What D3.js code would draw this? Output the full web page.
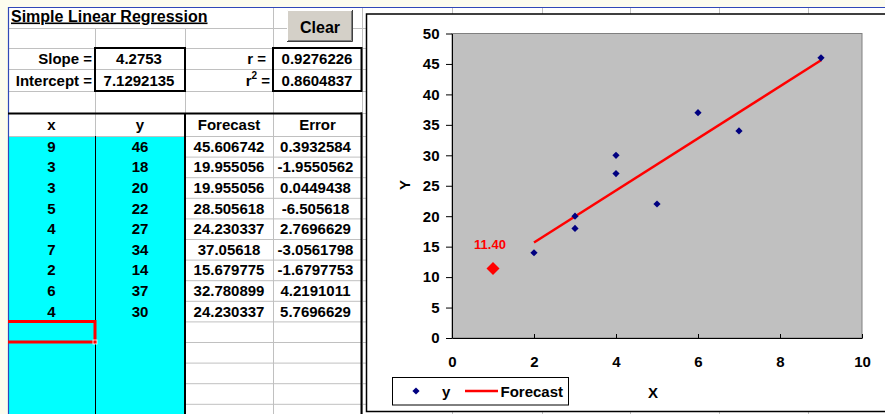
<!DOCTYPE html>
<html>
<head>
<meta charset="utf-8">
<script src="https://cdn.jsdelivr.net/npm/d3@7"></script>
<style>
  html, body { margin: 0; padding: 0; background: #fcfcee; }
  svg { display: block; font-family: "Liberation Sans", Arial, sans-serif; font-weight: bold; }
</style>
</head>
<body>
<svg id="sheet" width="885" height="414"></svg>
<script>
// ── data (as shown in the sheet) ───────────────────────────────
const xs        = [9, 3, 3, 5, 4, 7, 2, 6, 4];
const ys        = [46, 18, 20, 22, 27, 34, 14, 37, 30];
const forecasts = ["45.606742", "19.955056", "19.955056", "28.505618", "24.230337",
                   "37.05618", "15.679775", "32.780899", "24.230337"];
const errors    = ["0.3932584", "-1.9550562", "0.0449438", "-6.505618", "2.7696629",
                   "-3.0561798", "-1.6797753", "4.2191011", "5.7696629"];
const statLabels = ["Slope =", "Intercept ="];
const statValues = ["4.2753", "7.1292135"];
const corrValues = ["0.9276226", "0.8604837"];
const headers    = ["x", "y", "Forecast", "Error"];
const newPoint   = { x: 1, y: 11.40, label: "11.40" };
const xTicks     = [0, 2, 4, 6, 8, 10];
const yTicks     = [0, 5, 10, 15, 20, 25, 30, 35, 40, 45, 50];

// ── layout ─────────────────────────────────────────────────────
const FONT   = 15;
const GRID   = "#c0c0c0";
const CYAN   = "#00ffff";
const NAVY   = "#000080";
const RED    = "#ff0000";
const colX   = [8, 95, 185, 273, 362, 452, 542, 630, 719, 808, 897];
const rowY   = [7, 28, 48, 69, 91, 113, 136];
const ROW_H  = 20.6;
for (let i = 1; rowY[rowY.length - 1] < 414; i++) rowY.push(136 + i * ROW_H);
const DATA0  = 136;

const svg = d3.select("#sheet");

// sheet background
svg.append("rect").attr("x", 8).attr("y", 7).attr("width", 877).attr("height", 407).attr("fill", "#fff");

// cyan input columns
svg.append("rect").attr("x", colX[0]).attr("y", DATA0).attr("width", colX[2] - colX[0]).attr("height", 414 - DATA0).attr("fill", CYAN);

// gridlines
const grid = svg.append("g").attr("stroke", GRID).attr("stroke-width", 1);
rowY.slice(1).forEach(y => {
  const x0 = y > DATA0 ? colX[2] : colX[0];
  grid.append("line").attr("x1", x0).attr("x2", 885).attr("y1", y + 0.5).attr("y2", y + 0.5);
});
colX.slice(1, -1).forEach((x, i) => {
  const y0 = (i < 2) ? 28 : 7;   // title overflows A..C in row 1
  grid.append("line").attr("x1", x + 0.5).attr("x2", x + 0.5).attr("y1", y0).attr("y2", 414);
});

// frame lines (window edge)
svg.append("line").attr("x1", 8).attr("x2", 885).attr("y1", 7.5).attr("y2", 7.5).attr("stroke", "#3048b8").attr("stroke-width", 1.2);
svg.append("line").attr("x1", 8.5).attr("x2", 8.5).attr("y1", 7).attr("y2", 414).attr("stroke", "#3048b8").attr("stroke-width", 1.2);

// title
svg.append("text").attr("x", 11).attr("y", 21.5).attr("font-size", 16)
  .style("text-decoration", "underline").text("Simple Linear Regression");

// Clear button
const btn = svg.append("g");
btn.append("rect").attr("x", 287).attr("y", 10.5).attr("width", 66).attr("height", 31).attr("fill", "#d4d0c8");
btn.append("path").attr("d", "M287.5,41.5V10.5H352.5").attr("fill", "none").attr("stroke", "#fff");
btn.append("path").attr("d", "M287,41.5H352.5V10").attr("fill", "none").attr("stroke", "#404040");
btn.append("path").attr("d", "M288,40.5H351.5V11").attr("fill", "none").attr("stroke", "#808080");
btn.append("text").attr("x", 320).attr("y", 33).attr("text-anchor", "middle").attr("font-size", 16).text("Clear");

// stats block
statLabels.forEach((s, i) => {
  const cy = i === 0 ? 58.5 : 80.5;
  svg.append("text").attr("x", 92).attr("y", cy + 5.4).attr("text-anchor", "end").attr("font-size", FONT).text(s);
  svg.append("text").attr("x", 139).attr("y", cy + 5.4).attr("text-anchor", "middle").attr("font-size", FONT).text(statValues[i]);
  svg.append("text").attr("x", 317).attr("y", cy + 5.4).attr("text-anchor", "middle").attr("font-size", FONT).text(corrValues[i]);
});
svg.append("text").attr("x", 266).attr("y", 63.9).attr("text-anchor", "end").attr("font-size", FONT).text("r =");
const r2 = svg.append("text").attr("x", 270).attr("y", 85.9).attr("text-anchor", "end").attr("font-size", FONT);
r2.append("tspan").text("r");
r2.append("tspan").attr("font-size", 10).attr("dy", -7).text("2");
r2.append("tspan").attr("dy", 7).text(" =");

const box = svg.append("g").attr("fill", "none").attr("stroke", "#000").attr("stroke-width", 2);
box.append("rect").attr("x", 95).attr("y", 48).attr("width", 90).attr("height", 43);
box.append("rect").attr("x", 273).attr("y", 48).attr("width", 88.5).attr("height", 43);

// data table
const colCenter = i => (colX[i] + colX[i + 1]) / 2;
headers.forEach((h, i) => {
  svg.append("text").attr("x", colCenter(i)).attr("y", 124.5 + 5.4)
    .attr("text-anchor", "middle").attr("font-size", FONT).text(h);
});
const rows = svg.append("g").attr("font-size", FONT).attr("text-anchor", "middle");
xs.forEach((xv, i) => {
  const by = DATA0 + i * ROW_H + ROW_H / 2 + 5.4;
  [String(xv), String(ys[i]), forecasts[i], errors[i]].forEach((t, c) => {
    rows.append("text").attr("x", colCenter(c) - (c === 3 ? 2 : 0)).attr("y", by).text(t);
  });
});

const tbl = svg.append("g").attr("stroke", "#000");
tbl.append("line").attr("x1", 8).attr("x2", 362).attr("y1", 113.5).attr("y2", 113.5).attr("stroke-width", 2);
tbl.append("line").attr("x1", 185).attr("x2", 185).attr("y1", 113).attr("y2", 414).attr("stroke-width", 2);
tbl.append("line").attr("x1", 361.5).attr("x2", 361.5).attr("y1", 112.5).attr("y2", 414).attr("stroke-width", 2);
tbl.append("line").attr("x1", 95.5).attr("x2", 95.5).attr("y1", DATA0).attr("y2", 414).attr("stroke-width", 1);

// selected cell
const selY = DATA0 + xs.length * ROW_H;
svg.append("path")
  .attr("d", `M8,${selY}H95V${selY + ROW_H}H8`)
  .attr("fill", "none").attr("stroke", RED).attr("stroke-width", 3);
svg.append("rect").attr("x", 93).attr("y", selY + ROW_H - 2).attr("width", 4).attr("height", 4)
  .attr("fill", RED).attr("stroke", "#fff").attr("stroke-width", 0.8);

// ── chart ─────────────────────────────────────────────────────
svg.append("rect").attr("x", 366.5).attr("y", 14).attr("width", 540).attr("height", 397.5)
  .attr("fill", "#fff").attr("stroke", "#000").attr("stroke-width", 1.5);

const x = d3.scaleLinear().domain([0, 10]).range([452, 862]);
const y = d3.scaleLinear().domain([0, 50]).range([338, 33.5]);

svg.append("rect").attr("x", x(0)).attr("y", y(50)).attr("width", x(10) - x(0)).attr("height", y(0) - y(50))
  .attr("fill", "#c0c0c0").attr("stroke", "#808080");

const yAxis = svg.append("g").attr("transform", `translate(${x(0)},0)`)
  .call(d3.axisLeft(y).tickValues(yTicks).tickSizeInner(6).tickSizeOuter(0).tickPadding(6.5));
const xAxis = svg.append("g").attr("transform", `translate(0,${y(0)})`)
  .call(d3.axisBottom(x).tickValues(xTicks).tickSizeInner(-4).tickSizeOuter(0).tickPadding(18).tickFormat(d3.format("d")));
[yAxis, xAxis].forEach(g => {
  g.attr("font-family", null).attr("font-size", FONT).attr("font-weight", "bold");
  g.selectAll("text").attr("fill", "#000");
  g.selectAll("line, path").attr("stroke", "#000");
});

svg.append("text").attr("transform", "translate(409.5,185) rotate(-90)")
  .attr("text-anchor", "middle").attr("font-size", FONT).text("Y");
svg.append("text").attr("x", 653).attr("y", 397.5)
  .attr("text-anchor", "middle").attr("font-size", FONT).text("X");

// forecast line
const fit = xs.map((xv, i) => [xv, +forecasts[i]]).sort((a, b) => a[0] - b[0]);
svg.append("path").datum([fit[0], fit[fit.length - 1]])
  .attr("d", d3.line().x(d => x(d[0])).y(d => y(d[1])))
  .attr("fill", "none").attr("stroke", RED).attr("stroke-width", 2.5);

// points
const diamond = r => `M0,${-r}L${r},0L0,${r}L${-r},0Z`;
svg.append("g").selectAll("path").data(xs).join("path")
  .attr("transform", (d, i) => `translate(${x(d)},${y(ys[i])})`)
  .attr("d", diamond(3.6)).attr("fill", NAVY);

svg.append("path").attr("transform", `translate(${x(newPoint.x)},${y(newPoint.y)})`)
  .attr("d", diamond(6.5)).attr("fill", RED);
svg.append("text").attr("x", x(newPoint.x) - 3).attr("y", 249)
  .attr("text-anchor", "middle").attr("font-size", 13).attr("fill", RED).text(newPoint.label);

// legend
const leg = svg.append("g");
leg.append("rect").attr("x", 392.5).attr("y", 377.5).attr("width", 176).attr("height", 27.5)
  .attr("fill", "#fff").attr("stroke", "#000");
leg.append("path").attr("transform", "translate(416,391)").attr("d", diamond(3.6)).attr("fill", NAVY);
leg.append("text").attr("x", 442).attr("y", 397).attr("font-size", FONT).text("y");
leg.append("line").attr("x1", 465).attr("x2", 498).attr("y1", 391).attr("y2", 391)
  .attr("stroke", RED).attr("stroke-width", 2.5);
leg.append("text").attr("x", 500.5).attr("y", 396.5).attr("font-size", FONT).text("Forecast");
</script>
</body>
</html>
